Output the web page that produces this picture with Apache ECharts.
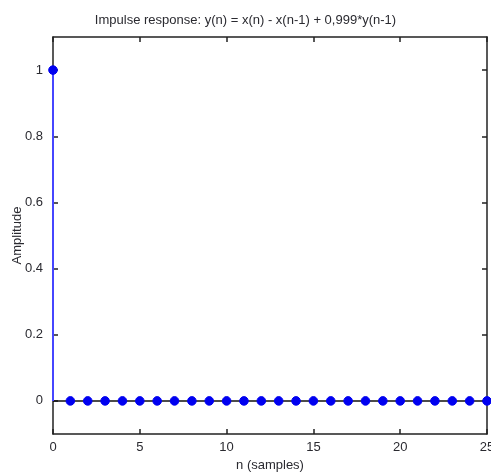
<!DOCTYPE html>
<html><head><meta charset="utf-8">
<script src="https://cdn.jsdelivr.net/npm/echarts@6/dist/echarts.min.js"></script>
<style>html,body{margin:0;padding:0;background:#fff}#c{width:491px;height:475px}</style>
</head><body><div id="c"></div>
<script>
const titleText = 'Impulse response: y(n) = x(n) - x(n-1) + 0,999*y(n-1)';
const xName = 'n (samples)';
const yName = 'Amplitude';
const samples = [0,1,2,3,4,5,6,7,8,9,10,11,12,13,14,15,16,17,18,19,20,21,22,23,24,25];
const amplitude = [1,0,0,0,0,0,0,0,0,0,0,0,0,0,0,0,0,0,0,0,0,0,0,0,0,0];
const xTicks = [0,5,10,15,20,25];
const yTicks = [0,0.2,0.4,0.6,0.8,1];

const chart = echarts.init(document.getElementById('c'));
const font = 'Liberation Sans, Arial, sans-serif';
const txt = '#2a2a30';
const axisLine = {show:true, onZero:false, lineStyle:{color:'#222', width:1.5}};
const tick = {show:true, inside:true, length:5, lineStyle:{color:'#222', width:1.5}};
const data = samples.map((n,i)=>[n, amplitude[i]]);
chart.setOption({
  animation:false,
  title:{text:titleText, left:'center', top:9, textStyle:{fontFamily:font, fontSize:13, fontWeight:'normal', color:txt}},
  grid:{left:53, right:4, top:37, bottom:41, containLabel:false, outerBoundsMode:'none'},
  xAxis:[
    {type:'value', min:0, max:25, interval:5, position:'bottom', axisLine, axisTick:tick, splitLine:{show:false},
     axisLabel:{color:txt, fontFamily:font, fontSize:13, margin:7, hideOverlap:false},
     name:xName, nameLocation:'middle', nameGap:25, nameMoveOverlap:false, nameTextStyle:{color:txt, fontFamily:font, fontSize:13}},
    {type:'value', min:0, max:25, interval:5, position:'top', axisLine, axisTick:tick, splitLine:{show:false}, axisLabel:{show:false}}
  ],
  yAxis:[
    {type:'value', min:-0.1, max:1.1, position:'left', axisLine, splitLine:{show:false},
     axisLabel:{color:txt, fontFamily:font, fontSize:13, margin:10, customValues: yTicks},
     axisTick:Object.assign({}, tick, {customValues: yTicks}),
     name:yName, nameLocation:'middle', nameGap:29, nameMoveOverlap:false, nameTextStyle:{color:txt, fontFamily:font, fontSize:13}},
    {type:'value', min:-0.1, max:1.1, position:'right', axisLine, splitLine:{show:false}, axisLabel:{show:false},
     axisTick:Object.assign({}, tick, {customValues: yTicks})}
  ],
  series:[
    {type:'line', data:[[0,0],[25,0]], symbol:'none', lineStyle:{color:'#111', width:1.5}, z:1, silent:true},
    {type:'custom', data:data, z:10, zlevel:1, clip:false,
     renderItem:function(params, api){
       const x = api.value(0), y = api.value(1);
       const p0 = api.coord([x,0]); const p1 = api.coord([x,y]);
       return {type:'group', children:[
         {type:'line', shape:{x1:p0[0], y1:p0[1], x2:p1[0], y2:p1[1]}, style:{stroke:'#4646ff', lineWidth:2}},
         {type:'circle', shape:{cx:p1[0], cy:p1[1], r:4.3}, style:{fill:'#0000f0', stroke:'#0000f0'}}
       ]};
     }}
  ]
});
</script></body></html>
